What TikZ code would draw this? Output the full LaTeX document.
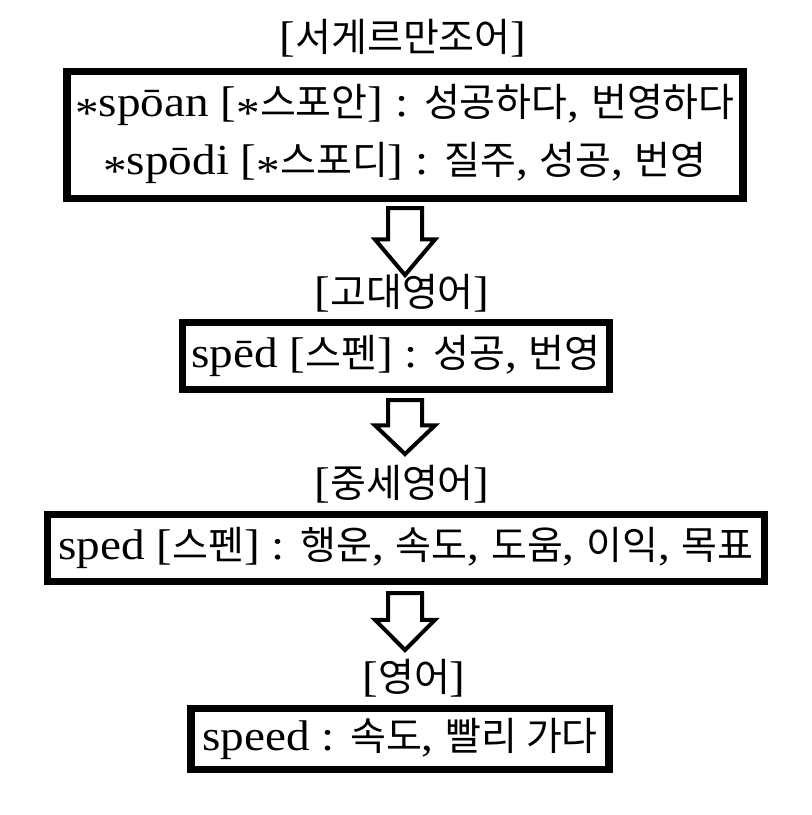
\documentclass[tikz,border=0pt]{standalone}
\usepackage{fontspec}
\setmainfont[Scale=1.1,FakeStretch=1.1]{Liberation Serif}
\newfontfamily\krfont{Noto Sans CJK KR}
\usetikzlibrary{calc}
\tikzset{every node/.style={font=\fontsize{39}{58}\selectfont},box/.style={draw,line width=7.5pt,inner sep=0pt,align=center},ttl/.style={inner sep=0pt},blk/.style={line width=4pt,fill=white,line join=miter}}
\newcommand{\ko}[1]{{\krfont #1}}
\newcommand{\st}{\raisebox{-.25em}{*}}
\newcommand{\blk}[2]{\draw[blk] ($(#1)+(-17,0)$)--($(#1)+(17,0)$)--($(#1)!.47!(#2)+(17,0)$)--($(#1)!.47!(#2)+(30,0)$)--(#2)--($(#1)!.47!(#2)+(-30,0)$)--($(#1)!.47!(#2)+(-17,0)$)--cycle;}
\begin{document}
\begin{tikzpicture}[x=1pt,y=-1pt]
\useasboundingbox (0,0) rectangle (812,815);
\node[ttl] (t1) at (403,38) {[\ko{서게르만조어}]};
\node[box,minimum width=676pt,minimum height=127pt] (b1) at (405,135) {\st spōan [\st\ko{스포안}] : \ko{성공하다}, \ko{번영하다}\\\st spōdi [\st\ko{스포디}] : \ko{질주}, \ko{성공}, \ko{번영}};
\node[ttl] (t2) at (402,293) {[\ko{고대영어}]};
\node[box,minimum width=427pt,minimum height=67pt] (b2) at (396,356) {spēd [\ko{스펜}] : \ko{성공}, \ko{번영}};
\node[ttl] (t3) at (402,484) {[\ko{중세영어}]};
\node[box,minimum width=717pt,minimum height=67pt] (b3) at (406,548) {sped [\ko{스펜}] : \ko{행운}, \ko{속도}, \ko{도움}, \ko{이익}, \ko{목표}};
\node[ttl] (t4) at (414,678) {[\ko{영어}]};
\node[box,minimum width=418pt,minimum height=61pt] (b4) at (400,739) {speed : \ko{속도}, \ko{빨리 가다}};
% block arrows
\coordinate (s1) at (405,208); \coordinate (e1) at (405,275);
\coordinate (s2) at (405,400); \coordinate (e2) at (405,454);
\coordinate (s3) at (405,593); \coordinate (e3) at (405,650);
\blk{s1}{e1}\blk{s2}{e2}\blk{s3}{e3}
\end{tikzpicture}
\end{document}
